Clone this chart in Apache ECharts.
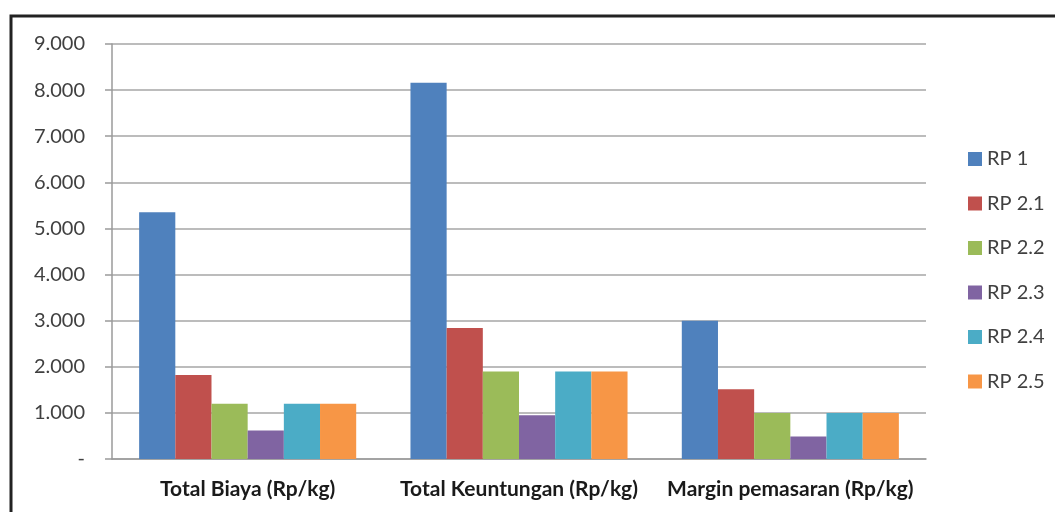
<!DOCTYPE html>
<html>
<head>
<meta charset="utf-8">
<script src="https://cdn.jsdelivr.net/npm/echarts@6/dist/echarts.min.js"></script>
<style>
html,body{margin:0;padding:0;background:#fff;}
#c{width:1055px;height:512px;}
</style>
</head>
<body>
<div id="c"></div>
<script>
var categories = ['Total Biaya (Rp/kg)', 'Total Keuntungan (Rp/kg)', 'Margin pemasaran (Rp/kg)'];
var seriesNames = ['RP 1', 'RP 2.1', 'RP 2.2', 'RP 2.3', 'RP 2.4', 'RP 2.5'];
var rp1  = [5350, 8160, 3000];
var rp21 = [1820, 2840, 1510];
var rp22 = [1200, 1900, 1000];
var rp23 = [620, 950, 490];
var rp24 = [1200, 1900, 1000];
var rp25 = [1200, 1900, 1000];
var colors = ['#4F81BD', '#C0504D', '#9BBB59', '#8064A2', '#4BACC6', '#F79646'];
var allValues = [rp1, rp21, rp22, rp23, rp24, rp25];

function fmt(v) {
  if (v === 0) return '-';
  return String(v).replace(/\B(?=(\d{3})+(?!\d))/g, '.');
}

var chart = echarts.init(document.getElementById('c'), null, {renderer: 'canvas'});
var series = seriesNames.map(function (n, i) {
  return {
    name: n,
    type: 'bar',
    data: allValues[i],
    barGap: '0%',
    barCategoryGap: '20%',
    itemStyle: {color: colors[i]}
  };
});

chart.setOption({
  backgroundColor: '#ffffff',
  animation: false,
  color: colors,
  grid: {left: 112, right: 129, top: 44, bottom: 53, containLabel: false},
  xAxis: {
    type: 'category',
    data: categories,
    axisLine: {lineStyle: {color: '#9a9a9a', width: 1.5}},
    axisTick: {show: false},
    axisLabel: {
      interval: 0,
      color: '#1a1a1a',
      fontFamily: 'Lato',
      fontWeight: 'bold',
      fontSize: 21,
      margin: 20
    }
  },
  yAxis: {
    type: 'value',
    min: 0,
    max: 9000,
    interval: 1000,
    axisLine: {show: true, lineStyle: {color: '#9a9a9a', width: 1.5}},
    axisTick: {show: true, length: 7, lineStyle: {color: '#9a9a9a', width: 1.5}},
    splitLine: {lineStyle: {color: '#a6a6a6', width: 1.5}},
    axisLabel: {
      color: '#404040',
      fontFamily: 'Lato',
      fontSize: 20,
      margin: 27,
      formatter: fmt
    }
  },
  legend: {
    orient: 'vertical',
    left: 963,
    top: 144,
    itemWidth: 14,
    itemHeight: 14,
    itemGap: 24.5,
    icon: 'rect',
    data: seriesNames,
    textStyle: {color: '#404040', fontFamily: 'Lato', fontSize: 20}
  },
  graphic: [{
    type: 'rect',
    shape: {x: 11, y: 16, width: 1100, height: 600},
    style: {fill: 'none', stroke: '#222', lineWidth: 3},
    z: 100
  }],
  series: series
});
</script>
</body>
</html>
